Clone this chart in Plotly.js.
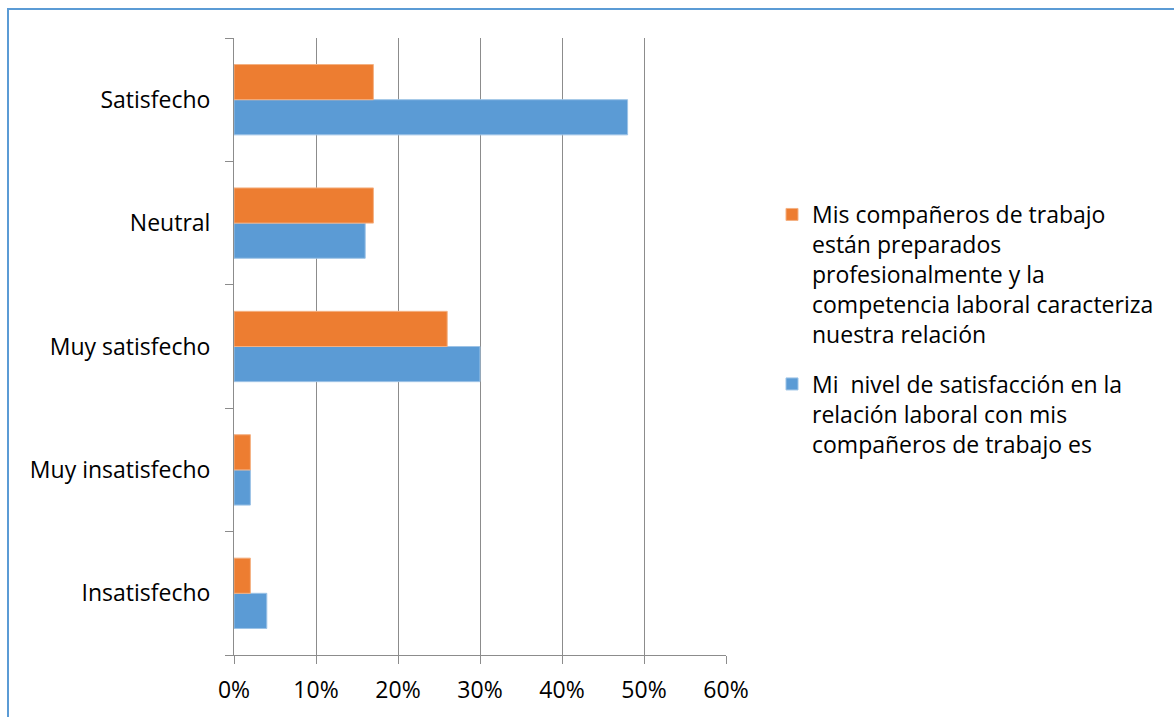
<!DOCTYPE html>
<html>
<head>
<meta charset="utf-8">
<script src="https://cdn.plot.ly/plotly-3.0.1.min.js"></script>
<style>html,body{margin:0;padding:0;background:#fff;}#chart{width:1174px;height:717px;}</style>
</head>
<body>
<div id="chart"></div>
<script>
const categories = ["Insatisfecho", "Muy insatisfecho", "Muy satisfecho", "Neutral", "Satisfecho"];
const seriesNames = [
  "Mi  nivel de satisfacción en la<br>relación laboral con mis<br>compañeros de trabajo es",
  "Mis compañeros de trabajo<br>están preparados<br>profesionalmente y la<br>competencia laboral caracteriza<br>nuestra relación"
];
const nivelSatisfaccion = [0.04, 0.02, 0.30, 0.16, 0.48];
const companerosPreparados = [0.02, 0.02, 0.26, 0.17, 0.17];
const xTickVals = [0, 0.1, 0.2, 0.3, 0.4, 0.5, 0.6];
const xTickText = ["0%", "10%", "20%", "30%", "40%", "50%", "60%"];

const FONT = "Open Sans, Noto Sans, sans-serif";
const FS = 23;
const L = 234, R = 726, T = 38, B = 655, W = 1174, H = 717;
const pw = R - L, ph = B - T;

const traces = [
  {type: "bar", orientation: "h", name: seriesNames[0], legendgroup: "blue", legendrank: 2, y: categories, x: nivelSatisfaccion,
   marker: {color: "#5b9bd5", line: {color: "#9dc3e6", width: 1}}, hoverinfo: "x+y"},
  {type: "bar", orientation: "h", name: seriesNames[1], legendgroup: "orange", legendrank: 1, y: categories, x: companerosPreparados,
   marker: {color: "#ed7d31", line: {color: "#f4b183", width: 1}}, hoverinfo: "x+y"}
];

const layout = {
  width: W, height: H,
  margin: {l: L, r: W - R, t: T, b: H - B, pad: 0},
  paper_bgcolor: "#fff", plot_bgcolor: "#fff",
  font: {family: FONT, size: FS, color: "#000"},
  barmode: "group", bargap: 0.43, bargroupgap: 0,
  showlegend: true,
  legend: {traceorder: "grouped", x: (772 - L) / pw, xanchor: "left", y: (B - 193) / ph, yanchor: "top",
           valign: "top", font: {family: FONT, size: FS, color: "#000"}, tracegroupgap: 17, itemwidth: 30},
  xaxis: {range: [0, 0.6], tickvals: xTickVals, ticktext: xTickText, showgrid: true, gridcolor: "#8c8c8c", gridwidth: 1,
          showline: true, linecolor: "#8c8c8c", linewidth: 1, ticks: "outside", ticklen: 8, tickcolor: "#8c8c8c",
          zeroline: false, fixedrange: true, ticklabelstandoff: 6, tickfont: {size: FS, family: FONT}},
  yaxis: {type: "category", categoryorder: "array", categoryarray: categories, showgrid: false,
          showline: true, linecolor: "#8c8c8c", linewidth: 1, ticks: "outside", ticklen: 8, tickcolor: "#8c8c8c",
          tickson: "boundaries", ticklabelstandoff: 18, fixedrange: true, tickfont: {size: FS, family: FONT}},
  shapes: [{type: "rect", xref: "paper", yref: "paper",
            x0: (8 - L) / pw, x1: (W + 20 - L) / pw, y0: (B - (H + 20)) / ph, y1: (B - 9) / ph,
            line: {color: "#5b9bd5", width: 2}, fillcolor: "rgba(0,0,0,0)", layer: "below"}]
};

Plotly.newPlot("chart", traces, layout, {displayModeBar: false, staticPlot: true});
</script>
</body>
</html>
